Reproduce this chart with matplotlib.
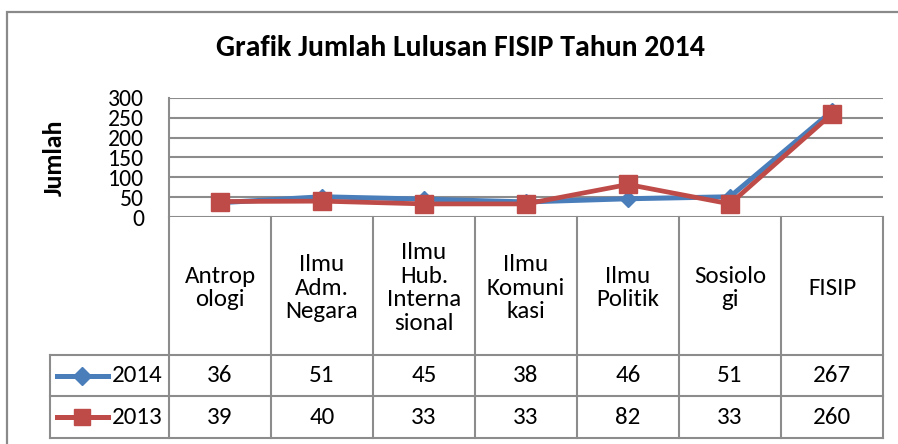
import matplotlib
matplotlib.use("Agg")
import matplotlib.pyplot as plt

categories = ["Antrop\nologi", "Ilmu\nAdm.\nNegara", "Ilmu\nHub.\nInterna\nsional",
              "Ilmu\nKomuni\nkasi", "Ilmu\nPolitik", "Sosiolo\ngi", "FISIP"]
series_names = ["2014", "2013"]
values_2014 = [36, 51, 45, 38, 46, 51, 267]
values_2013 = [39, 40, 33, 33, 82, 33, 260]
yticks = [0, 50, 100, 150, 200, 250, 300]
title = "Grafik Jumlah Lulusan FISIP Tahun 2014"
ylabel = "Jumlah"

FONT = ["Carlito", "Archivo Narrow", "DejaVu Sans"]
plt.rcParams["font.family"] = FONT

W, H = 898, 444
fig = plt.figure(figsize=(W / 100, H / 100), dpi=100)
fig.patch.set_facecolor("white")

GRID = "#8c8c8c"
BLUE = "#4a7ebb"
RED = "#be4b48"

def fx(px):
    return px / W

def fy(py):
    return 1 - py / H

# outer chart border (cropped)
border = fig.add_axes([0, 0, 1, 1])
border.set_xlim(0, W)
border.set_ylim(H, 0)
border.axis("off")
border.plot([7, 7, W + 5], [H + 5, 12, 12], color="#8a8a8a", lw=1.6, solid_joinstyle="miter")

# plot area
L, R, T, B = 169, 883, 98, 217
colw = (R - L) / 7.0
ax = fig.add_axes([fx(L), fy(B), fx(R - L), (B - T) / H])
n = len(categories)
xs = [i + 0.5 for i in range(n)]
ax.set_xlim(0, n)
ax.set_ylim(0, 300)
ax.set_yticks(yticks)
ax.set_yticklabels([str(v) for v in yticks], fontsize=17)
ax.tick_params(axis="y", length=0, pad=18)
ax.set_xticks([])
for s in ["top", "right", "bottom"]:
    ax.spines[s].set_visible(False)
ax.spines["left"].set_color(GRID)
ax.spines["left"].set_linewidth(1.5)
for v in yticks:
    ax.axhline(v, color=GRID, lw=1.5, zorder=1)
ax.plot(xs, values_2014, color=BLUE, lw=3.6, marker="D", markersize=8,
        markerfacecolor=BLUE, markeredgecolor=BLUE, zorder=3, clip_on=False)
ax.plot(xs, values_2013, color=RED, lw=3.4, marker="s", markersize=13,
        markerfacecolor=RED, markeredgecolor=RED, zorder=4, clip_on=False)

fig.text(fx(54), fy(158), ylabel, rotation=90, ha="center", va="center",
         fontsize=18.5, fontweight="bold")
fig.text(fx(460), fy(48), title, ha="center", va="center", fontsize=21.5, fontweight="bold")

# data table
TT, TB = 217, 438
LL = 50
tax = fig.add_axes([fx(LL), fy(TB), fx(R - LL), (TB - TT) / H])
tax.set_xlim(-(L - LL) / colw, n)
tax.set_ylim(TB - TT, 0)
tax.axis("off")
r1, r2, r3 = 355 - TT, 396 - TT, TB - TT
x0 = -(L - LL) / colw
lk = dict(color=GRID, lw=1.5, clip_on=False, solid_capstyle="projecting")
for i in range(n + 1):
    tax.plot([i, i], [0, r3], **lk)
tax.plot([x0, x0], [r1, r3], **lk)
for yy in [r1, r2, r3]:
    tax.plot([x0, n], [yy, yy], **lk)

for i, c in enumerate(categories):
    tax.text(i + 0.5, r1 / 2 + 2, c, ha="center", va="center", fontsize=18,
             linespacing=1.17)
rows = [(values_2014, BLUE, "D", 9), (values_2013, RED, "s", 11)]
centers = [(r1 + r2) / 2, (r2 + r3) / 2]
for (vals, col, mk, ms), yc, name in zip(rows, centers, series_names):
    lx0 = (57 - L) / colw
    lx1 = (108 - L) / colw
    tax.plot([lx0, lx1], [yc, yc], color=col, lw=3.6, clip_on=False)
    tax.plot([(lx0 + lx1) / 2], [yc], marker=mk, markersize=ms, color=col, clip_on=False)
    tax.text((112 - L) / colw, yc, name, ha="left", va="center", fontsize=18)
    for i, v in enumerate(vals):
        tax.text(i + 0.5, yc, str(v), ha="center", va="center", fontsize=18)

fig.savefig("out.png", dpi=100, facecolor="white")
